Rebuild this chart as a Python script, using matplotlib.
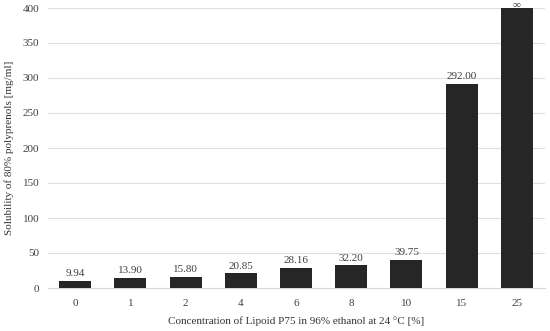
import matplotlib.pyplot as plt
import numpy as np

categories = ["0", "1", "2", "4", "6", "8", "10", "15", "25"]
values = [9.94, 13.90, 15.80, 20.85, 28.16, 32.20, 39.75, 292.00, 400.0]
labels = ["9.94", "13.90", "15.80", "20.85", "28.16", "32.20", "39.75", "292.00", "\u221e"]

plt.rcParams["font.family"] = ["Liberation Serif", "DejaVu Serif"]
plt.rcParams["font.size"] = 8

fig = plt.figure(figsize=(5.5, 3.31), dpi=100)
ax = fig.add_axes([47.5 / 550, 1 - 288 / 331, 497 / 550, 280 / 331])

x = np.arange(len(categories))
ax.bar(x, values, width=0.58, color="#262626", zorder=3)
for xi, v, lab in zip(x, values, labels):
    if lab == "\u221e":
        # infinite solubility: label squeezed above the top of the axis
        ax.text(xi, v - 1, lab, ha="center", va="bottom", fontsize=8,
                color="#404040", clip_on=False)
    else:
        ax.text(xi, v + 4, lab, ha="center", va="bottom", fontsize=8, color="#404040")

ax.set_xlim(-0.5, len(categories) - 0.5)
ax.set_ylim(0, 400)
ax.set_yticks(np.arange(0, 401, 50))
ax.set_xticks(x)
ax.set_xticklabels(categories)
ax.grid(axis="y", color="#e0e0e0", linewidth=0.8, zorder=0)
for s in ["top", "right", "left"]:
    ax.spines[s].set_visible(False)
ax.spines["bottom"].set_color("#d9d9d9")
ax.tick_params(length=0, colors="#404040", labelsize=8)
ax.tick_params(axis="x", pad=8)
ax.tick_params(axis="y", pad=6)

ax.set_xlabel("Concentration of Lipoid P75 in 96% ethanol at 24 \u00b0C [%]", fontsize=8, color="#333333", labelpad=6)
ax.set_ylabel("Solubility of 80% polyprenols [mg/ml]", fontsize=8, color="#333333", labelpad=6)

fig.savefig("out.png", dpi=100)
